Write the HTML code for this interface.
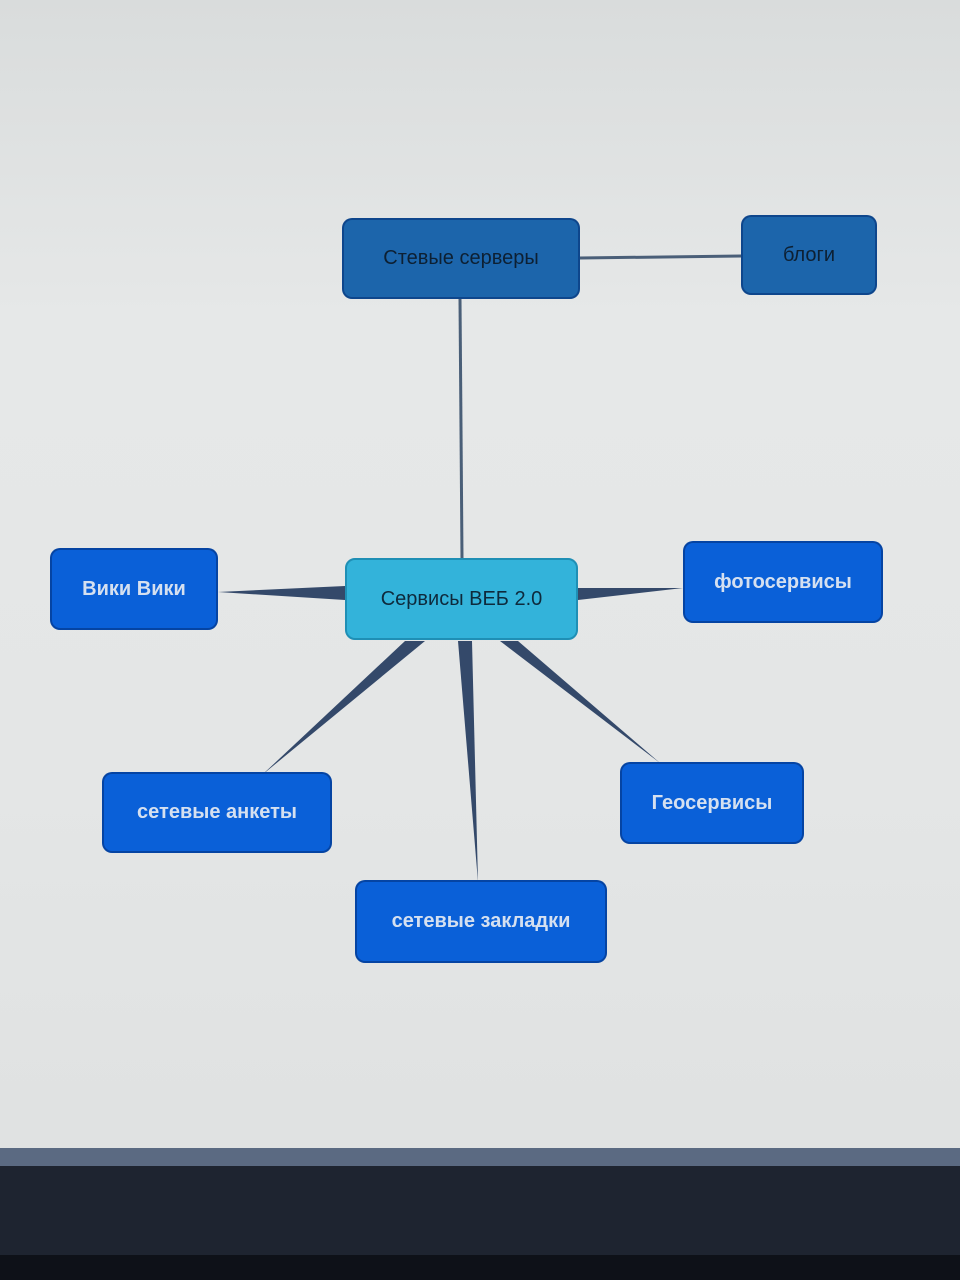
<!DOCTYPE html>
<html><head><meta charset="utf-8"><style>
html,body{margin:0;padding:0}
body{width:960px;height:1280px;overflow:hidden;position:relative;background:linear-gradient(180deg,#d9dcdc 0%,#e6e8e8 25%,#e4e6e6 60%,#e0e2e2 88%);font-family:"Liberation Sans",sans-serif}
.n{position:absolute;border-radius:10px;display:flex;align-items:center;justify-content:center;font-size:20px;font-weight:bold;box-sizing:border-box;border:2px solid rgba(0,40,110,.5)}
.d{background:#1c65ab;color:#0d2033;font-weight:normal}
.b{background:#0a60d8;color:#d5e0f0}
.c{background:#33b3da;color:#0e2a3c;border-color:#1f8fb5;font-weight:normal}
</style></head><body>
<svg width="960" height="1280" style="position:absolute;left:0;top:0">
<line x1="580" y1="258" x2="741" y2="256" stroke="#4a5f78" stroke-width="3"/>
<line x1="460" y1="299" x2="462" y2="558" stroke="#4a5f78" stroke-width="3"/>
<polygon points="218,592 345,586 345,600" fill="#34496a"/>
<polygon points="578,588 683,588 578,600" fill="#34496a"/>
<polygon points="262,775 405,641 425,641" fill="#34496a"/>
<polygon points="478,882 458,641 472,641" fill="#34496a"/>
<polygon points="660,763 500,641 518,641" fill="#34496a"/>
<rect x="0" y="1148" width="960" height="20" fill="#5b6a82"/>
<rect x="0" y="1166" width="960" height="114" fill="#1e2430"/>
<rect x="0" y="1255" width="960" height="25" fill="#0e1118"/>
</svg>
<div class="n d" style="left:342px;top:218px;width:238px;height:81px">Стевые серверы</div>
<div class="n d" style="left:741px;top:215px;width:136px;height:80px">блоги</div>
<div class="n c" style="left:345px;top:558px;width:233px;height:82px">Сервисы ВЕБ 2.0</div>
<div class="n b" style="left:50px;top:548px;width:168px;height:82px">Вики Вики</div>
<div class="n b" style="left:683px;top:541px;width:200px;height:82px">фотосервисы</div>
<div class="n b" style="left:102px;top:772px;width:230px;height:81px">сетевые анкеты</div>
<div class="n b" style="left:620px;top:762px;width:184px;height:82px">Геосервисы</div>
<div class="n b" style="left:355px;top:880px;width:252px;height:83px">сетевые закладки</div>
</body></html>
